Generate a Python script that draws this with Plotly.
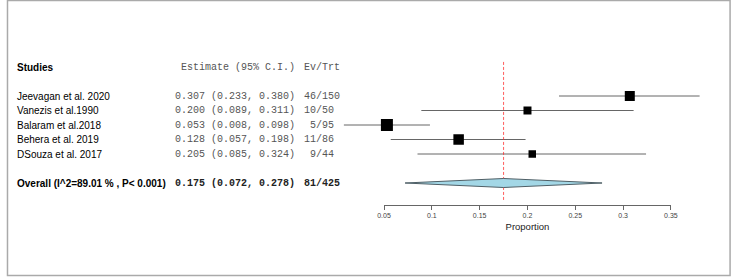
import plotly.graph_objects as go

# ---- data ----
studies = ["Jeevagan et al. 2020", "Vanezis et al.1990", "Balaram et al.2018",
           "Behera et al. 2019", "DSouza et al. 2017"]
estimate = [0.307, 0.200, 0.053, 0.128, 0.205]
ci_low = [0.233, 0.089, 0.008, 0.057, 0.085]
ci_high = [0.380, 0.311, 0.098, 0.198, 0.324]
events = [46, 10, 5, 11, 9]
totals = [150, 50, 95, 86, 44]

overall_label = "Overall (I^2=89.01 % , P< 0.001)"
overall_est = 0.175
overall_low = 0.072
overall_high = 0.278
overall_events = 81
overall_total = 425

tick_values = [0.05, 0.10, 0.15, 0.20, 0.25, 0.30, 0.35]
tick_labels = ["0.05", "0.1", "0.15", "0.2", "0.25", "0.3", "0.35"]

# ---- layout constants (styling) ----
W, H = 741, 277
square_px = [10, 8, 12, 10.5, 7.5]
rows = list(range(1, len(studies) + 1))
header_row = -1
overall_row = len(studies) + 2

SANS = "Liberation Sans, Arial, sans-serif"
MONO = "Liberation Mono, Courier New, monospace"
NB = "\u00a0"

fig = go.Figure()

# CI lines
cx, cy = [], []
for lo, hi, r in zip(ci_low, ci_high, rows):
    cx += [lo, hi, None]
    cy += [r, r, None]
fig.add_trace(go.Scatter(x=cx, y=cy, mode="lines",
                         line=dict(color="#666666", width=1),
                         hoverinfo="skip", showlegend=False))

# red dashed reference at overall estimate
fig.add_trace(go.Scatter(x=[overall_est, overall_est], y=[header_row - 0.35, overall_row + 1.3],
                         mode="lines", line=dict(color="rgb(255,40,40)", width=1, dash="3px,2px"),
                         opacity=0.75, hoverinfo="skip", showlegend=False))

# squares
fig.add_trace(go.Scatter(x=estimate, y=rows, mode="markers",
                         marker=dict(symbol="square", size=square_px, color="#000000",
                                     opacity=1, line=dict(width=0)),
                         hoverinfo="skip", showlegend=False))

# diamond
h = 0.31
fig.add_trace(go.Scatter(x=[overall_low, overall_est, overall_high, overall_est, overall_low],
                         y=[overall_row, overall_row - h, overall_row, overall_row + h, overall_row],
                         mode="lines", fill="toself", fillcolor="#a3d7e6",
                         line=dict(color="#4f5f66", width=1),
                         hoverinfo="skip", showlegend=False))

# dummy trace for the visible proportion axis
fig.add_trace(go.Scatter(x=[tick_values[0], tick_values[-1]], y=[None, None], xaxis="x2", yaxis="y",
                         mode="markers", marker=dict(opacity=0), hoverinfo="skip", showlegend=False))

# ---- text columns ----
x_name = 8 / W
x_est = 169 / W
x_ev = 301 / W

ann = []
def add_text(x, y, text, font, color, size=10):
    ann.append(dict(x=x, y=y, xref="paper", yref="y", text=text, showarrow=False,
                    xanchor="left", yanchor="middle",
                    font=dict(family=font, size=size, color=color)))

add_text(x_name, header_row, "<b>Studies</b>", SANS, "black")
add_text(x_est, header_row, NB + "Estimate (95% C.I.)", MONO, "#555555")
add_text(x_ev, header_row, "Ev/Trt", MONO, "#555555")

for s, e, lo, hi, ev, n, r in zip(studies, estimate, ci_low, ci_high, events, totals, rows):
    add_text(x_name, r, s, SANS, "black")
    add_text(x_est, r, f"{e:.3f} ({lo:.3f}, {hi:.3f})", MONO, "#555555")
    add_text(x_ev, r, f"{ev:>2}/{n}".replace(" ", NB), MONO, "#555555")

add_text(x_name, overall_row, f"<b>{overall_label}</b>", SANS, "black")
add_text(x_est, overall_row, f"<b>{overall_est:.3f} ({overall_low:.3f}, {overall_high:.3f})</b>", MONO, "#222222")
add_text(x_ev, overall_row, f"<b>{overall_events}/{overall_total}</b>", MONO, "#222222")

# ---- axes mapping ----
px_per_unit = (676.7 - 384.3) / (tick_values[-1] - tick_values[0])
x0_val = tick_values[0] - 384.3 / px_per_unit
x1_val = tick_values[0] + (W - 384.3) / px_per_unit
row_px = 14.5
first_row_px = 96
y_top = rows[0] - first_row_px / row_px
y_bot = rows[0] + (H - first_row_px) / row_px

fig.update_layout(
    width=W, height=H,
    margin=dict(l=0, r=0, t=0, b=0),
    paper_bgcolor="white", plot_bgcolor="rgba(0,0,0,0)",
    xaxis=dict(domain=[0, 1], range=[x0_val, x1_val], visible=False, fixedrange=True),
    yaxis=dict(domain=[0, 1], range=[y_bot, y_top], visible=False, fixedrange=True),
    xaxis2=dict(domain=[384.3 / W, 676.7 / W], range=[tick_values[0], tick_values[-1]],
                anchor="free", position=1 - 205 / H, side="bottom",
                showline=True, linecolor="#666666", linewidth=1,
                ticks="outside", ticklen=4, tickcolor="#666666", tickwidth=1,
                tickvals=tick_values, ticktext=tick_labels,
                tickfont=dict(family=SANS, size=7, color="#444444"),
                showgrid=False, zeroline=False, fixedrange=True,
                title=dict(text="Proportion", font=dict(family=SANS, size=9.5, color="#222222"),
                           standoff=4)),
    annotations=ann,
    shapes=[dict(type="rect", xref="paper", yref="paper",
                 x0=0.5 / W, x1=737 / W, y0=1 - 275.5 / H, y1=1 - 0.5 / H,
                 line=dict(color="#aaaaaa", width=1.5), fillcolor="rgba(0,0,0,0)", layer="below")],
)

fig.write_html("out.html", config={"displayModeBar": False},
               post_script="document.body.style.margin='0';document.body.style.padding='0';")
